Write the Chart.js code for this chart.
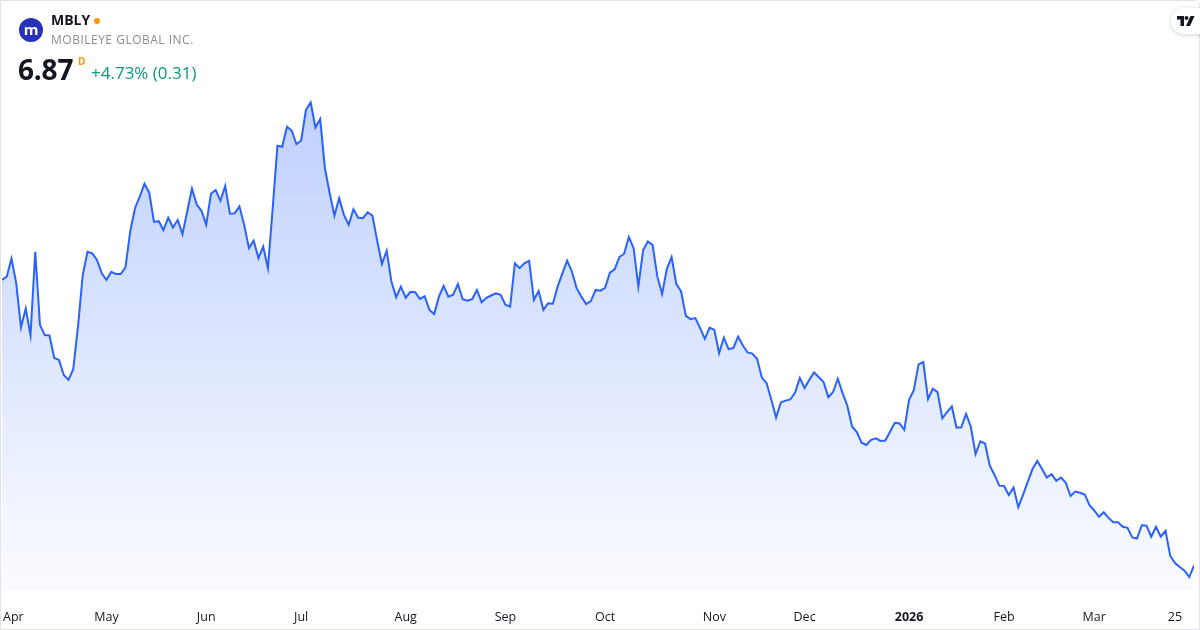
<!DOCTYPE html>
<html>
<head>
<meta charset="utf-8">
<script src="https://cdn.jsdelivr.net/npm/chart.js@4.4.1/dist/chart.umd.min.js"></script>
<style>
  html, body { margin: 0; padding: 0; background: #fff; }
  body { width: 1200px; height: 630px; position: relative; overflow: hidden; font-family: "Open Sans", sans-serif; }
  #chart { position: absolute; left: 0; top: 0; }
  .frame { position: absolute; left: 0; top: 0; width: 1198px; height: 628px; border: 1px solid #e0e3eb; border-top-right-radius: 6px; pointer-events: none; }
  .logo { position: absolute; left: 19px; top: 18px; width: 24px; height: 24px; border-radius: 50%; background: #2632b8; color: #fff; font: bold 15px "Open Sans", sans-serif; text-align: center; line-height: 22px; }
  .ticker { position: absolute; left: 51px; top: 10px; font: bold 14px "Open Sans", sans-serif; color: #131722; }
  .dot { position: absolute; left: 94px; top: 18px; width: 6px; height: 6px; border-radius: 50%; background: #ff9800; }
  .name { position: absolute; left: 51px; top: 31px; font: 12px "Open Sans", sans-serif; color: #8c8c8c; letter-spacing: 0.5px; }
  .price { position: absolute; left: 18px; top: 50px; font: bold 28px "Open Sans", sans-serif; color: #131722; letter-spacing: -0.2px; }
  .sup { position: absolute; left: 78px; top: 54px; font: bold 10px "Open Sans", sans-serif; color: #ff9800; }
  .change { position: absolute; left: 91px; top: 61px; font: 17px "Open Sans", sans-serif; color: #089981; }
  .tv { position: absolute; left: 1171px; top: 8px; width: 40px; height: 26px; border-radius: 13px; background: #fff; box-shadow: 0 1px 5px rgba(0,0,0,0.18); }
  .tv svg { position: absolute; left: 6px; top: 8px; }
</style>
</head>
<body>
<canvas id="chart" width="1200" height="630"></canvas>
<div class="frame"></div>
<div class="logo">m</div>
<div class="ticker">MBLY</div>
<div class="dot"></div>
<div class="name">MOBILEYE GLOBAL INC.</div>
<div class="price">6.87</div>
<div class="sup">D</div>
<div class="change">+4.73% (0.31)</div>
<div class="tv"><svg width="18" height="10" viewBox="0 0 18 10"><path d="M0 0h7v10h-3.5v-6.5h-3.5z" fill="#131722"/><circle cx="9.5" cy="2" r="2" fill="#131722"/><path d="M13.5 0h4l-4.5 10h-4z" fill="#131722"/></svg></div>
<script>
// daily closes, 31 Mar 2025 -> end of Mar 2026
const prices = [14.59, 14.68, 15.17, 14.50, 13.31, 13.82, 13.10, 15.35, 13.37, 13.10,
  13.09, 12.48, 12.43, 12.02, 11.89, 12.18, 13.33, 14.72, 15.35, 15.31,
  15.13, 14.77, 14.59, 14.81, 14.75, 14.75, 14.93, 15.90, 16.53, 16.84,
  17.19, 16.95, 16.16, 16.18, 15.94, 16.27, 16.01, 16.21, 15.83, 16.44,
  17.06, 16.63, 16.46, 16.08, 16.92, 17.02, 16.73, 17.13, 16.38, 16.39,
  16.58, 16.08, 15.45, 15.65, 15.18, 15.49, 14.91, 16.53, 18.22, 18.19,
  18.73, 18.63, 18.26, 18.36, 19.19, 19.39, 18.71, 18.94, 17.61, 16.94,
  16.33, 16.80, 16.35, 16.08, 16.50, 16.27, 16.26, 16.42, 16.33, 15.65,
  15.02, 15.38, 14.55, 14.12, 14.41, 14.11, 14.27, 14.26, 14.08, 14.15,
  13.78, 13.67, 14.14, 14.43, 14.14, 14.19, 14.48, 14.07, 14.03, 14.07,
  14.32, 13.99, 14.11, 14.17, 14.23, 14.19, 13.92, 13.87, 15.04, 14.91,
  15.04, 15.11, 14.05, 14.29, 13.78, 13.96, 13.95, 14.41, 14.77, 15.11,
  14.82, 14.37, 14.14, 13.94, 14.02, 14.32, 14.30, 14.38, 14.79, 14.88,
  15.21, 15.30, 15.75, 15.45, 14.41, 15.40, 15.63, 15.54, 14.68, 14.21,
  14.89, 15.21, 14.48, 14.28, 13.62, 13.53, 13.56, 13.29, 13.00, 13.30,
  13.24, 12.61, 13.03, 12.72, 12.75, 13.06, 12.82, 12.63, 12.60, 12.46,
  11.95, 11.80, 11.35, 10.87, 11.28, 11.33, 11.36, 11.55, 11.94, 11.67,
  11.89, 12.09, 11.96, 11.83, 11.42, 11.56, 11.92, 11.53, 11.19, 10.63,
  10.48, 10.19, 10.13, 10.27, 10.31, 10.24, 10.25, 10.49, 10.73, 10.71,
  10.54, 11.35, 11.61, 12.31, 12.37, 11.37, 11.65, 11.56, 10.85, 11.02,
  11.17, 10.60, 10.61, 10.97, 10.63, 9.88, 10.23, 10.17, 9.57, 9.32,
  9.03, 9.02, 8.78, 8.98, 8.45, 8.78, 9.14, 9.48, 9.70, 9.48,
  9.25, 9.34, 9.16, 9.25, 9.11, 8.75, 8.87, 8.84, 8.79, 8.50,
  8.36, 8.19, 8.31, 8.16, 8.04, 8.04, 7.92, 7.89, 7.63, 7.60,
  7.96, 7.95, 7.65, 7.92, 7.65, 7.81, 7.13, 6.94, 6.83, 6.73,
  6.56, 6.87];

// bar index where each time-axis label sits
const tickIndex = [0, 22, 43, 63, 85, 106, 127, 150, 169, 191, 211, 230, 247];
const tickLabels = ['Apr', 'May', 'Jun', 'Jul', 'Aug', 'Sep', 'Oct', 'Nov', 'Dec', '2026', 'Feb', 'Mar', '25'];
const boldLabels = ['2026'];

// draws the time labels under the plot, using the x scale for positions
const timeLabels = {
  id: 'timeLabels',
  afterDraw(chart) {
    const ctx = chart.ctx;
    const xs = chart.scales.x;
    ctx.save();
    ctx.fillStyle = '#131722';
    ctx.textBaseline = 'middle';
    tickLabels.forEach(function (lab, i) {
      ctx.font = (boldLabels.includes(lab) ? 'bold ' : '') + '12.5px "Open Sans", sans-serif';
      let x = xs.getPixelForValue(tickIndex[i]);
      const w = ctx.measureText(lab).width;
      ctx.textAlign = 'center';
      if (x - w / 2 < 3) { ctx.textAlign = 'left'; x = 3; }
      ctx.fillText(lab, x, 617);
    });
    ctx.restore();
  }
};

const ctx = document.getElementById('chart').getContext('2d');
new Chart(ctx, {
  type: 'line',
  data: {
    datasets: [{
      data: prices.map(function (p, i) { return { x: i, y: p }; }),
      borderColor: '#2962ff',
      borderWidth: 2,
      pointRadius: 0,
      tension: 0,
      fill: 'start',
      backgroundColor: function (context) {
        const area = context.chart.chartArea;
        if (!area) return 'rgba(41,98,255,0.2)';
        const g = context.chart.ctx.createLinearGradient(0, area.top, 0, area.bottom);
        g.addColorStop(0, 'rgba(41,98,255,0.30)');
        g.addColorStop(1, 'rgba(41,98,255,0.02)');
        return g;
      }
    }]
  },
  options: {
    responsive: false,
    animation: false,
    layout: { padding: { left: 2, right: 6, top: 95, bottom: 40 } },
    plugins: { legend: { display: false }, tooltip: { enabled: false } },
    scales: {
      x: { type: 'linear', min: 0, max: prices.length - 1, display: false },
      y: { min: 6.21, max: 19.59, display: false }
    }
  },
  plugins: [timeLabels]
});
</script>
</body>
</html>
